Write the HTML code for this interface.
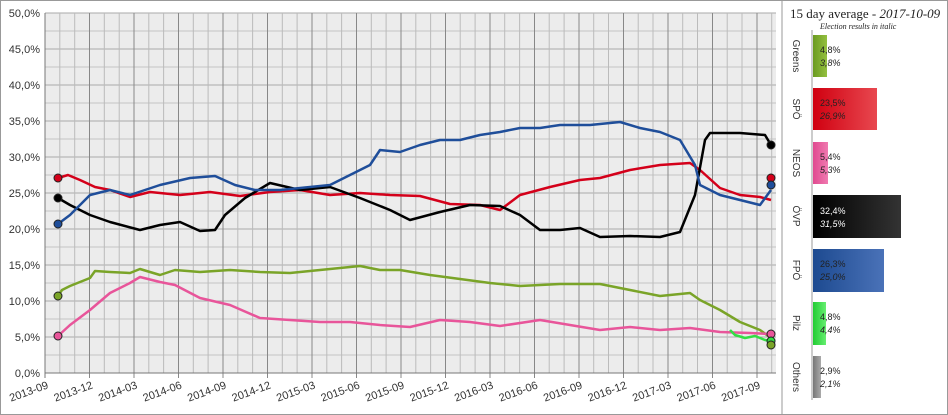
<!DOCTYPE html>
<html><head><meta charset="utf-8"><style>
body{margin:0;background:#fff;}
svg{display:block;font-family:"Liberation Sans",sans-serif;}
</style></head><body>
<svg width="948" height="415" xmlns="http://www.w3.org/2000/svg">
<rect x="0.5" y="0.5" width="947" height="414" fill="#fff" stroke="#999"/>
<rect x="45" y="13" width="731" height="360" fill="#ececec"/>
<path d="M45 31H776M45 67H776M45 103H776M45 139H776M45 175H776M45 211H776M45 247H776M45 283H776M45 319H776M45 355H776" stroke="#c4c4c4"/>
<path d="M45 13H776M45 49H776M45 85H776M45 121H776M45 157H776M45 193H776M45 229H776M45 265H776M45 301H776M45 337H776" stroke="#aaa"/>
<path stroke="#bbb" d="M59.8 13V373M74.7 13V373M104.3 13V373M119.2 13V373M148.8 13V373M163.6 13V373M193.3 13V373M208.1 13V373M237.8 13V373M252.6 13V373M282.3 13V373M297.1 13V373M326.8 13V373M341.6 13V373M371.3 13V373M386.1 13V373M415.8 13V373M430.6 13V373M460.2 13V373M475.1 13V373M504.7 13V373M519.6 13V373M549.2 13V373M564.1 13V373M593.7 13V373M608.5 13V373M638.2 13V373M653 13V373M682.7 13V373M697.5 13V373M727.2 13V373M742 13V373M771.7 13V373"/>
<path stroke="#888" d="M89.5 13V378M134 13V378M178.5 13V378M223 13V378M267.5 13V378M312 13V378M356.5 13V378M401 13V378M445.5 13V378M490 13V378M534.5 13V378M579 13V378M623.5 13V378M668 13V378M712.5 13V378M757 13V378"/>
<path d="M45 13V378M45 373H776" fill="none" stroke="#777"/>
<g font-size="11" fill="#333" text-anchor="end">
<text x="40" y="17">50,0%</text><text x="40" y="53">45,0%</text><text x="40" y="89">40,0%</text><text x="40" y="125">35,0%</text><text x="40" y="161">30,0%</text><text x="40" y="197">25,0%</text><text x="40" y="233">20,0%</text><text x="40" y="269">15,0%</text><text x="40" y="305">10,0%</text><text x="40" y="341">5,0%</text><text x="40" y="377">0,0%</text>
</g>
<g font-size="11" fill="#333" text-anchor="end">
<text transform="translate(49,388) rotate(-20)">2013-09</text>
<text transform="translate(93.5,388) rotate(-20)">2013-12</text>
<text transform="translate(138,388) rotate(-20)">2014-03</text>
<text transform="translate(182.5,388) rotate(-20)">2014-06</text>
<text transform="translate(227,388) rotate(-20)">2014-09</text>
<text transform="translate(271.5,388) rotate(-20)">2014-12</text>
<text transform="translate(316,388) rotate(-20)">2015-03</text>
<text transform="translate(360.5,388) rotate(-20)">2015-06</text>
<text transform="translate(405,388) rotate(-20)">2015-09</text>
<text transform="translate(449.5,388) rotate(-20)">2015-12</text>
<text transform="translate(494,388) rotate(-20)">2016-03</text>
<text transform="translate(538.5,388) rotate(-20)">2016-06</text>
<text transform="translate(583,388) rotate(-20)">2016-09</text>
<text transform="translate(627.5,388) rotate(-20)">2016-12</text>
<text transform="translate(672,388) rotate(-20)">2017-03</text>
<text transform="translate(716.5,388) rotate(-20)">2017-06</text>
<text transform="translate(761,388) rotate(-20)">2017-09</text>
</g>
<g fill="none" stroke-width="2.5" stroke-linejoin="round">
<polyline stroke="#7aa428" points="58,296 62,290 70,286 90,278 95,271 110,272 130,273 140,269 160,275 175,270 200,272 230,270 260,272 290,273 320,270 340,268 360,266 380,270 400,270 430,275 460,279 490,283 520,286 560,284 600,284 630,290 660,296 690,293 700,300 720,310 740,322 760,330 771,338"/>
<polyline stroke="#e8559a" points="58,336 70,325 90,310 110,293 130,283 140,277 160,282 175,285 200,298 230,305 260,318 290,320 320,322 350,322 380,325 410,327 440,320 470,322 500,326 540,320 570,325 600,330 630,327 660,330 690,328 720,332 750,333 771,334"/>
<polyline stroke="#d4001a" points="58,178 68,175 80,180 95,187 110,190 130,197 150,192 180,195 210,192 240,196 270,192 300,190 330,195 360,193 390,195 420,196 450,204 480,205 500,210 520,195 550,187 580,180 600,178 630,170 660,165 690,163 700,170 720,188 740,195 760,197 771,200"/>
<polyline stroke="#000" points="58,198 70,205 90,215 110,222 140,230 160,225 180,222 200,231 215,230 225,215 245,198 270,183 300,190 330,187 360,198 390,210 410,220 440,212 470,205 500,206 520,215 540,230 560,230 580,228 600,237 630,236 660,237 680,232 695,195 705,140 710,133 740,133 765,135 771,145"/>
<polyline stroke="#1f4e9a" points="58,224 70,215 90,195 110,190 130,195 160,185 190,178 215,176 235,185 255,190 280,190 310,187 330,185 350,175 370,165 380,150 400,152 420,145 440,140 460,140 480,135 500,132 520,128 540,128 560,125 590,125 620,122 640,128 660,132 680,140 695,165 700,185 720,195 740,200 760,205 771,190"/>
<polyline stroke="#33dd44" points="730,330 735,335 745,338 755,336 765,340 771,341"/>
</g>
<g stroke="#222" stroke-width="1">
<circle cx="58" cy="178" r="4" fill="#d4001a"/><circle cx="58" cy="198" r="4" fill="#000"/><circle cx="58" cy="224" r="4" fill="#1f4e9a"/><circle cx="58" cy="296" r="4" fill="#7aa428"/><circle cx="58" cy="336" r="4" fill="#e8559a"/>
<circle cx="771" cy="145" r="4" fill="#000"/><circle cx="771" cy="178" r="4" fill="#d4001a"/><circle cx="771" cy="185" r="4" fill="#1f4e9a"/><circle cx="771" cy="334" r="4" fill="#e8559a"/><circle cx="771" cy="341" r="4" fill="#33dd44"/><circle cx="771" cy="345" r="4" fill="#7aa428"/>
</g>
<line x1="782" y1="0" x2="782" y2="415" stroke="#999"/>
<text x="790" y="18" font-family="Liberation Serif,serif" font-size="13" fill="#222">15 day average - <tspan font-style="italic">2017-10-09</tspan></text>
<text x="820" y="29" font-family="Liberation Serif,serif" font-size="8" font-style="italic" fill="#222">Election results in italic</text>
<line x1="812" y1="30" x2="812" y2="400" stroke="#999"/>
<defs>
<linearGradient id="g1"><stop offset="0" stop-color="#6a9a20"/><stop offset="1" stop-color="#94c040"/></linearGradient>
<linearGradient id="g2"><stop offset="0" stop-color="#d00010"/><stop offset="1" stop-color="#e84850"/></linearGradient>
<linearGradient id="g3"><stop offset="0" stop-color="#e04a90"/><stop offset="1" stop-color="#f07ab0"/></linearGradient>
<linearGradient id="g4"><stop offset="0" stop-color="#000"/><stop offset="1" stop-color="#333"/></linearGradient>
<linearGradient id="g5"><stop offset="0" stop-color="#1d4a90"/><stop offset="1" stop-color="#4a72b8"/></linearGradient>
<linearGradient id="g6"><stop offset="0" stop-color="#22cc33"/><stop offset="1" stop-color="#66ee70"/></linearGradient>
<linearGradient id="g7"><stop offset="0" stop-color="#777"/><stop offset="1" stop-color="#aaa"/></linearGradient>
</defs>
<rect x="813" y="35" width="14" height="42" fill="url(#g1)"/>
<rect x="813" y="88" width="64" height="42" fill="url(#g2)"/>
<rect x="813" y="142" width="15" height="42" fill="url(#g3)"/>
<rect x="813" y="195" width="88" height="43" fill="url(#g4)"/>
<rect x="813" y="249" width="71" height="43" fill="url(#g5)"/>
<rect x="813" y="302" width="13" height="43" fill="url(#g6)"/>
<rect x="813" y="356" width="8" height="42" fill="url(#g7)"/>
<g font-size="9" fill="#222">
<text x="820" y="53">4,8%</text><text x="820" y="66" font-style="italic">3,8%</text>
<text x="820" y="106">23,5%</text><text x="820" y="119" font-style="italic">26,9%</text>
<text x="820" y="160">5,4%</text><text x="820" y="173" font-style="italic">5,3%</text>
<text x="820" y="214" fill="#fff">32,4%</text><text x="820" y="227" font-style="italic" fill="#fff">31,5%</text>
<text x="820" y="267">26,3%</text><text x="820" y="280" font-style="italic">25,0%</text>
<text x="820" y="320">4,8%</text><text x="820" y="333" font-style="italic">4,4%</text>
<text x="820" y="374">2,9%</text><text x="820" y="387" font-style="italic">2,1%</text>
</g>
<g font-size="10" fill="#333" text-anchor="middle">
<text transform="translate(793,56) rotate(90)">Greens</text>
<text transform="translate(793,109) rotate(90)">SPÖ</text>
<text transform="translate(793,163) rotate(90)">NEOS</text>
<text transform="translate(793,216) rotate(90)">ÖVP</text>
<text transform="translate(793,270) rotate(90)">FPÖ</text>
<text transform="translate(793,323) rotate(90)">Pilz</text>
<text transform="translate(793,377) rotate(90)">Others</text>
</g>
</svg>
</body></html>
